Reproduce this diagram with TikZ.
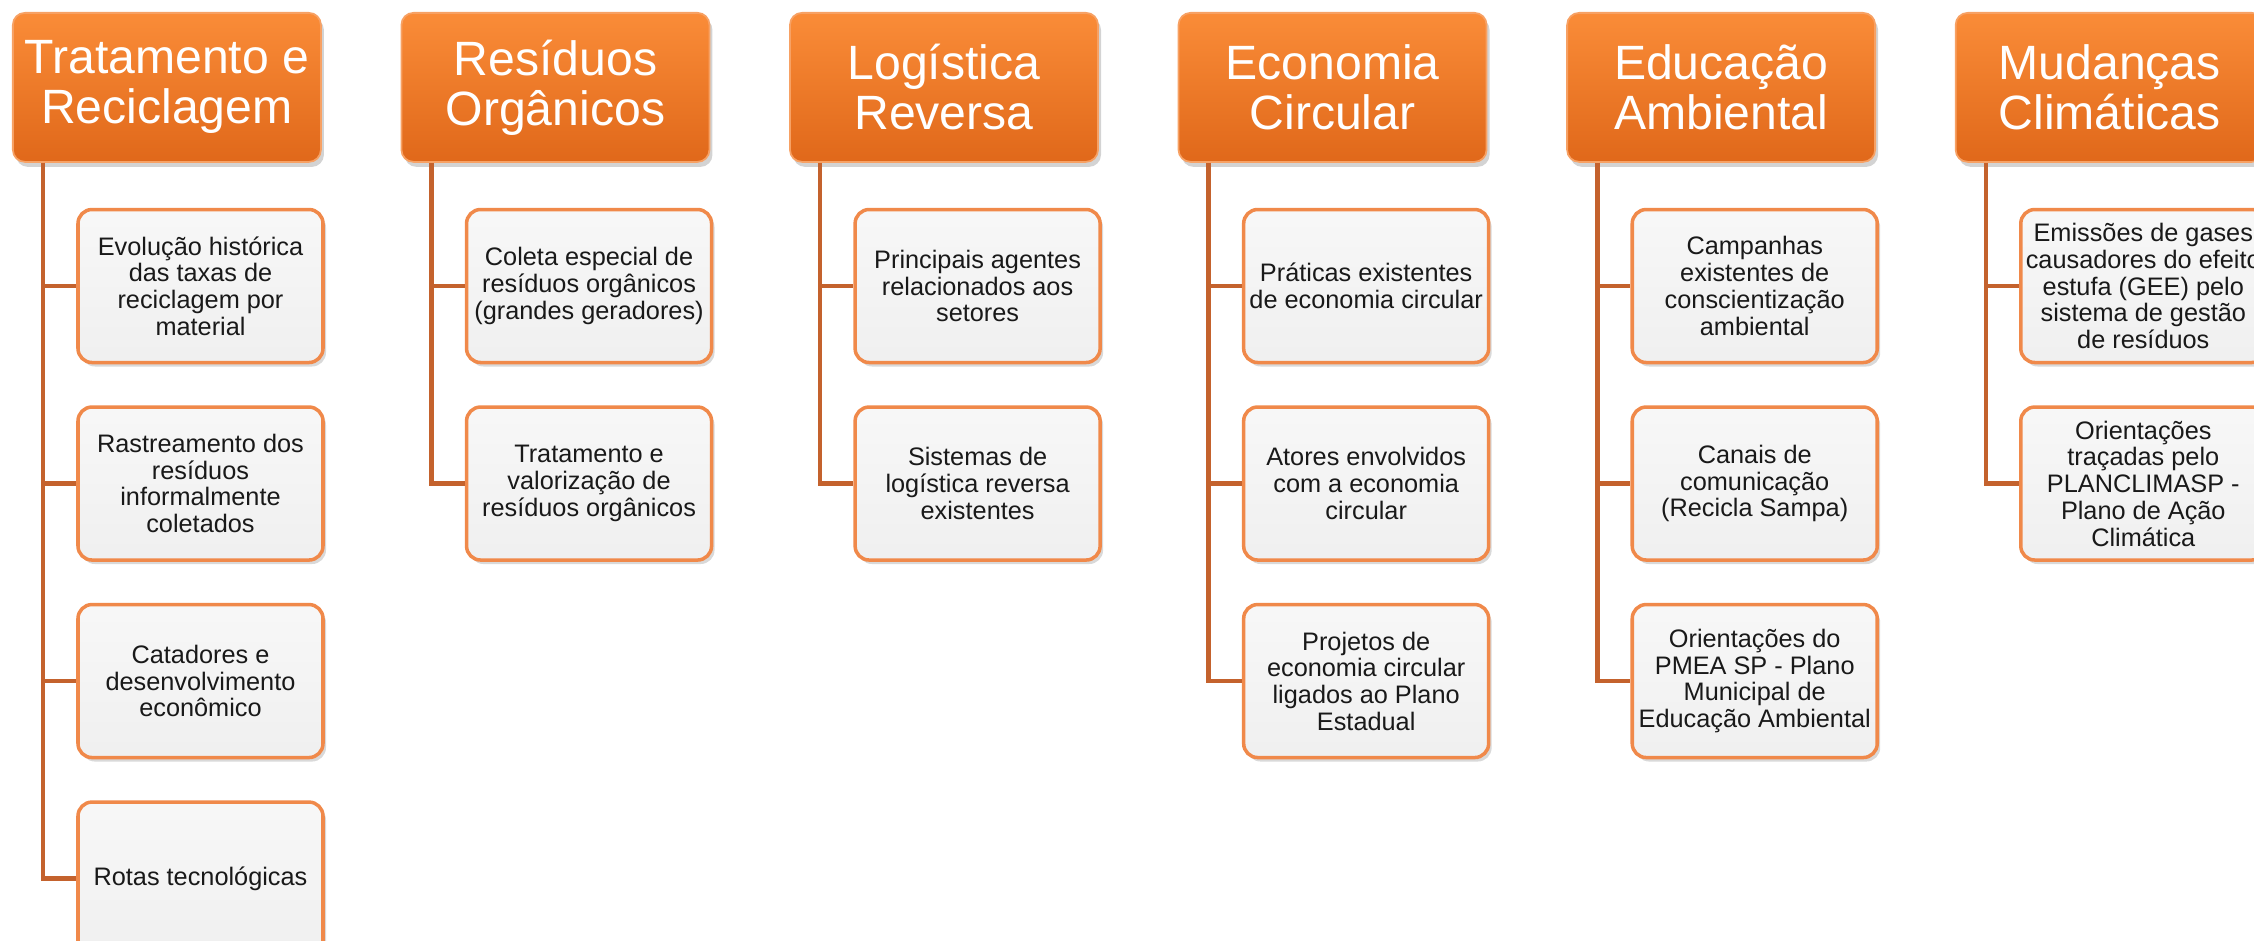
\documentclass[tikz,border=0pt]{standalone}
\usepackage{fontspec}
\setmainfont{Liberation Sans}
\usetikzlibrary{positioning,shadows}

\definecolor{hdtop}{HTML}{FA8C38}
\definecolor{hdbot}{HTML}{E0681A}
\definecolor{hdline}{HTML}{F7A164}
\definecolor{itline}{HTML}{F0894A}
\definecolor{linkc}{HTML}{C4622D}

\begin{document}
\begin{tikzpicture}[
  node distance=0.788cm,
  head/.style={
    rounded corners=0.12cm, align=center, text=white,
    minimum width=3.08cm, minimum height=1.49cm, inner sep=1pt,
    top color=hdtop, bottom color=hdbot, draw=hdline, line width=0.5pt,
    font=\fontsize{13.7}{14.2}\selectfont,
    drop shadow={opacity=0.35, shadow xshift=0.03cm, shadow yshift=-0.05cm}},
  item/.style={
    rounded corners=0.14cm, align=center, text=black!90,
    minimum width=2.45cm, minimum height=1.53cm, inner sep=1pt,
    top color=white!97!black, bottom color=white!94!black,
    draw=itline, line width=1pt,
    font=\fontsize{7.2}{7.6}\selectfont,
    drop shadow={opacity=0.3, shadow xshift=0.03cm, shadow yshift=-0.04cm}},
  link/.style={draw=linkc, line width=1.3pt}
]
\useasboundingbox (0,0) rectangle (22.54,-9.41);

% headers
\node[head, anchor=north west] (tr) at (0.12,-0.12) {Tratamento e\\Reciclagem};
\node[head, right=of tr] (ro) {Resíduos\\Orgânicos};
\node[head, right=of ro] (lr) {Logística\\Reversa};
\node[head, right=of lr] (ec) {Economia\\Circular};
\node[head, right=of ec] (ea) {Educação\\Ambiental};
\node[head, right=of ea] (mc) {Mudanças\\Climáticas};

% Tratamento e Reciclagem
\node[item, below=0.45cm of tr.south east, anchor=north east, xshift=0.03cm] (tr1)
  {Evolução histórica\\das taxas de\\reciclagem por\\material};
\node[item, below=0.41cm of tr1] (tr2)
  {Rastreamento dos\\resíduos\\informalmente\\coletados};
\node[item, below=0.41cm of tr2] (tr3)
  {Catadores e\\desenvolvimento\\econômico};
\node[item, below=0.41cm of tr3] (tr4) {Rotas tecnológicas};

% Resíduos Orgânicos
\node[item, below=0.45cm of ro.south east, anchor=north east, xshift=0.03cm] (ro1)
  {Coleta especial de\\resíduos orgânicos\\(grandes geradores)};
\node[item, below=0.41cm of ro1] (ro2)
  {Tratamento e\\valorização de\\resíduos orgânicos};

% Logística Reversa
\node[item, below=0.45cm of lr.south east, anchor=north east, xshift=0.03cm] (lr1)
  {Principais agentes\\relacionados aos\\setores};
\node[item, below=0.41cm of lr1] (lr2)
  {Sistemas de\\logística reversa\\existentes};

% Economia Circular
\node[item, below=0.45cm of ec.south east, anchor=north east, xshift=0.03cm] (ec1)
  {Práticas existentes\\de economia circular};
\node[item, below=0.41cm of ec1] (ec2)
  {Atores envolvidos\\com a economia\\circular};
\node[item, below=0.41cm of ec2] (ec3)
  {Projetos de\\economia circular\\ligados ao Plano\\Estadual};

% Educação Ambiental
\node[item, below=0.45cm of ea.south east, anchor=north east, xshift=0.03cm] (ea1)
  {Campanhas\\existentes de\\conscientização\\ambiental};
\node[item, below=0.41cm of ea1] (ea2)
  {Canais de\\comunicação\\(Recicla Sampa)};
\node[item, below=0.41cm of ea2] (ea3)
  {Orientações do\\PMEA SP - Plano\\Municipal de\\Educação Ambiental};

% Mudanças Climáticas
\node[item, below=0.45cm of mc.south east, anchor=north east, xshift=0.03cm] (mc1)
  {Emissões de gases\\causadores do efeito\\estufa (GEE) pelo\\sistema de gestão\\de resíduos};
\node[item, below=0.41cm of mc1] (mc2)
  {Orientações\\traçadas pelo\\PLANCLIMASP -\\Plano de Ação\\Climática};

% connectors
\foreach \h/\c in {tr/tr1, tr/tr2, tr/tr3, tr/tr4, ro/ro1, ro/ro2,
                   lr/lr1, lr/lr2, ec/ec1, ec/ec2, ec/ec3,
                   ea/ea1, ea/ea2, ea/ea3, mc/mc1, mc/mc2}
  \draw[link] ([xshift=0.31cm]\h.south west) |- (\c.west);

\end{tikzpicture}
\end{document}
